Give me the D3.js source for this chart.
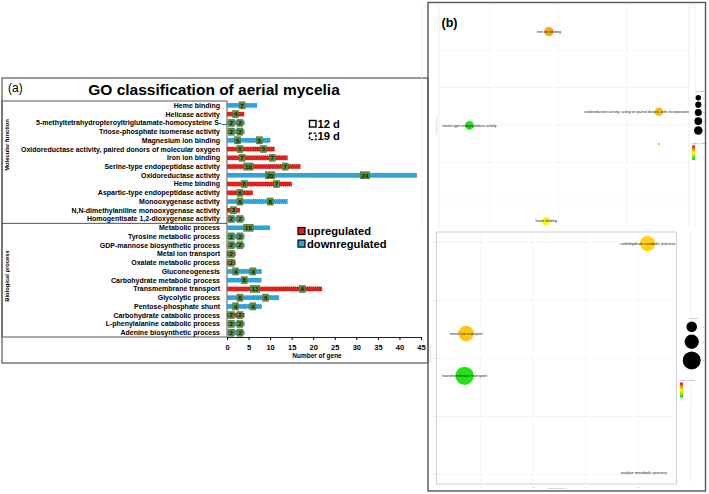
<!DOCTYPE html>
<html>
<head>
<meta charset="utf-8">
<script src="https://cdn.jsdelivr.net/npm/d3@7"></script>
<style>
body { margin: 0; background: #fff; }
svg { display: block; font-family: "Liberation Sans", Arial, sans-serif; }
</style>
</head>
<body>
<script>
// ---------- panel (a): GO classification bars ----------
let terms = [
  "Heme binding", "Helicase activity",
  "5-methyltetrahydropteroyltriglutamate-homocysteine S-...",
  "Triose-phosphate isomerase activity", "Magnesium ion binding",
  "Oxidoreductase activity, paired donors of molecular oxygen",
  "Iron ion binding", "Serine-type endopeptidase activity",
  "Oxidoreductase activity", "Heme binding",
  "Aspartic-type endopeptidase activity", "Monooxygenase activity",
  "N,N-dimethylaniline monooxygenase activity",
  "Homogentisate 1,2-dioxygenase activity",
  "Metabolic process", "Tyrosine metabolic process",
  "GDP-mannose biosynthetic process", "Metal ion transport",
  "Oxalate metabolic process", "Gluconeogenesis",
  "Carbohydrate metabolic process", "Transmembrane transport",
  "Glycolytic process", "Pentose-phosphate shunt",
  "Carbohydrate catabolic process", "L-phenylalanine catabolic process",
  "Adenine biosynthetic process"
];
let termGroup = [0,0,0,0,0,0,0,0,0,0,0,0,0,0, 1,1,1,1,1,1,1,1,1,1,1,1,1];
let groupNames = ["Molecular function", "Biological process"];
let day12 = [7,4,2,2,5,6,7,10,20,8,6,6,3,2, 10,2,2,2,2,4,8,13,6,4,2,2,2];
let day19 = [0,0,2,2,5,5,7,7,24,7,0,8,0,2, 0,2,2,0,0,4,0,9,6,4,2,2,2];
let regulation = ["down","up","down","down","down","up","up","up","down","up","up","down","up","down",
                  "down","down","down","up","up","down","down","up","down","down","up","down","down"];
let xTicks = [0,5,10,15,20,25,30,35,40,45];

// ---------- panel (b): semantic-space bubble plots ----------
let mfTerms = ["iron ion binding",
  "oxidoreduction activity, acting on paired donors, with incorporation",
  "serine-type endopeptidase activity", "", "heme binding"];
let mfX = [-0.28, 2.93, -2.6, 2.93, -0.36];
let mfY = [4.98, 0.71, -0.02, -1.01, -5.12];
let mfSize = [3.5, 3.0, 3.0, 0, 3.0];
let mfLogP = [0.62, 0.70, 1.95, 0.60, 0.97];
let mfSizeLegend = [1, 1.5, 2, 2.5, 3];

let bpTerms = ["carbohydrate catabolic process", "metal ion transport",
  "transmembrane transport", "oxalate metabolic process"];
let bpX = [2.36, -4.54, -4.6, 2.22];
let bpY = [3.96, 0.86, -0.6, -3.94];
let bpSize = [2.2, 2.35, 3.1, 0];
let bpLogP = [0.80, 0.76, 1.95, 0.90];
let bpSizeLegend = [1, 2, 3];
let gridTicks = [-4, -2, 0, 2, 4];

const fills = { up: "#e3201b", down: "#2aa5dd" };
const edges = { up: "#8e0e0b", down: "#146a98" };

const svg = d3.select("body").append("svg").attr("width", 709).attr("height", 494);
const defs = svg.append("defs");

// ---- panel (a) frame ----
const pa = svg.append("g");
pa.append("rect").attr("x", 2).attr("y", 78).attr("width", 426).attr("height", 285)
  .attr("fill", "none").attr("stroke", "#555").attr("stroke-width", 1.2);
pa.append("text").attr("x", 8).attr("y", 92).attr("font-size", 12).text("(a)");
pa.append("text").attr("x", 214).attr("y", 95).attr("text-anchor", "middle")
  .attr("font-size", 15.5).attr("font-weight", "bold").text("GO classification of aerial mycelia");

const x = d3.scaleLinear().domain([0, 45]).range([227, 421]);
const y = d3.scaleBand().domain(d3.range(terms.length)).range([101, 337]);
const bw = y.bandwidth();

// label box and group divider
pa.append("rect").attr("x", 2).attr("y", 101).attr("width", 225).attr("height", 236)
  .attr("fill", "none").attr("stroke", "#555").attr("stroke-width", 1);
let splitAt = termGroup.indexOf(1);
pa.append("line").attr("x1", 2).attr("x2", 227)
  .attr("y1", y(splitAt)).attr("y2", y(splitAt)).attr("stroke", "#555");

let groupCenters = [145, 276];
pa.selectAll("text.grp").data(groupNames).enter().append("text")
  .attr("class", "grp")
  .attr("transform", (d, i) => "translate(9," + groupCenters[i] + ") rotate(-90)")
  .attr("text-anchor", "middle").attr("font-size", 5.8).attr("font-weight", "bold")
  .text(d => d);

pa.selectAll("text.term").data(terms).enter().append("text")
  .attr("class", "term")
  .attr("x", d => d.endsWith("...") ? 227 : 220)
  .attr("y", (d, i) => y(i) + bw / 2)
  .attr("dy", "0.35em").attr("text-anchor", "end")
  .attr("font-size", 7).attr("font-weight", "bold")
  .text(d => d);

// x axis
const xAxis = pa.append("g").attr("transform", "translate(0,337)")
  .call(d3.axisBottom(x).tickValues(xTicks).tickSize(3).tickSizeOuter(0));
xAxis.select(".domain").attr("stroke", "#222");
xAxis.selectAll("text").attr("font-size", 7.5).attr("font-weight", "bold")
  .attr("font-family", "Liberation Sans, Arial, sans-serif").attr("dy", "0.9em");
pa.append("text").attr("x", 317).attr("y", 358).attr("text-anchor", "middle")
  .attr("font-size", 6.5).attr("font-weight", "bold").text("Number of gene");

// bars: solid 12 d segment, dashed-edged 19 d segment stacked after it
const rows = pa.selectAll("g.row").data(terms).enter().append("g")
  .attr("class", "row")
  .attr("transform", (d, i) => "translate(0," + (y(i) + bw / 2) + ")");

rows.append("rect")
  .attr("x", x(0)).attr("y", -2.3).attr("height", 4.6)
  .attr("width", (d, i) => x(day12[i]) - x(0))
  .attr("fill", (d, i) => fills[regulation[i]]);

rows.each(function (d, i) {
  if (day19[i] <= 0) return;
  d3.select(this).append("rect")
    .attr("x", x(day12[i])).attr("y", -2.1).attr("height", 4.2)
    .attr("width", x(day12[i] + day19[i]) - x(day12[i]))
    .attr("fill", fills[regulation[i]])
    .attr("stroke", edges[regulation[i]]).attr("stroke-width", 0.7)
    .attr("stroke-dasharray", "1,1");
});

// value tags in the middle of each segment
rows.each(function (d, i) {
  let segs = [[0, day12[i]], [day12[i], day19[i]]].filter(s => s[1] > 0);
  let g = d3.select(this);
  segs.forEach(s => {
    let cx = x(s[0] + s[1] / 2);
    let w = String(s[1]).length * 3.6 + 2.4;
    g.append("rect").attr("x", cx - w / 2).attr("y", -3.6).attr("width", w).attr("height", 7.2)
      .attr("fill", "#5d8c3c").attr("stroke", "#3f6a27").attr("stroke-width", 0.4);
    g.append("text").attr("x", cx).attr("y", 0).attr("dy", "0.36em")
      .attr("text-anchor", "middle").attr("font-size", 6.2).attr("font-weight", "bold")
      .attr("fill", "#111").text(s[1]);
  });
});

// day legend
let dayNames = ["12 d", "19 d"];
const dayLeg = pa.selectAll("g.day").data(dayNames).enter().append("g")
  .attr("class", "day")
  .attr("transform", (d, i) => "translate(309.5," + (120.5 + i * 12.6) + ")");
dayLeg.append("rect").attr("width", 6.5).attr("height", 6.5)
  .attr("fill", "#fff").attr("stroke", "#000").attr("stroke-width", 1.4)
  .attr("stroke-dasharray", (d, i) => i ? "2.5,1.5" : null);
dayLeg.append("text").attr("x", 8).attr("y", 7.2).attr("font-size", 11.2)
  .attr("font-weight", "bold").text(d => d);

// regulation legend
let regKeys = ["up", "down"];
let regNames = ["upregulated", "downregulated"];
const regLeg = pa.selectAll("g.reg").data(regKeys).enter().append("g")
  .attr("class", "reg")
  .attr("transform", (d, i) => "translate(298," + (227.5 + i * 12.6) + ")");
regLeg.append("rect").attr("width", 7).attr("height", 7)
  .attr("fill", d => fills[d]).attr("stroke", "#000").attr("stroke-width", 1.2);
regLeg.append("text").attr("x", 9).attr("y", 7.6).attr("font-size", 11.2)
  .attr("font-weight", "bold").text((d, i) => regNames[i]);

// ---- panel (b) ----
const pb = svg.append("g");
pb.append("rect").attr("x", 428).attr("y", 2.5).attr("width", 277.5).attr("height", 488.5)
  .attr("fill", "none").attr("stroke", "#555").attr("stroke-width", 1.4);
pb.append("text").attr("x", 441.5).attr("y", 26.5).attr("font-size", 12.5)
  .attr("font-weight", "bold").text("(b)");

const colour = d3.scaleLinear().domain([0, 1, 2]).range(["#ff0000", "#ffff00", "#00e000"]);

function bubblePanel(box, xDom, yDom, termsA, xs, ys, sizes, logp, rScale, fontSize, frame) {
  const sx = d3.scaleLinear().domain(xDom).range([box.x0, box.x1]);
  const sy = d3.scaleLinear().domain(yDom).range([box.y1, box.y0]);
  const g = pb.append("g");
  g.selectAll("line.gx").data(gridTicks).enter().append("line")
    .attr("x1", d => sx(d)).attr("x2", d => sx(d)).attr("y1", box.y0).attr("y2", box.y1)
    .attr("stroke", "#eeeeee").attr("stroke-width", 0.6);
  g.selectAll("line.gy").data(gridTicks).enter().append("line")
    .attr("y1", d => sy(d)).attr("y2", d => sy(d)).attr("x1", box.x0).attr("x2", box.x1)
    .attr("stroke", "#eeeeee").attr("stroke-width", 0.6);
  if (frame) {
    g.append("rect").attr("x", box.x0).attr("y", box.y0)
      .attr("width", box.x1 - box.x0).attr("height", box.y1 - box.y0)
      .attr("fill", "none").attr("stroke", "#d2d2d2").attr("stroke-width", 1);
    g.selectAll("line.ty").data(gridTicks).enter().append("line")
      .attr("x1", box.x0 - 3).attr("x2", box.x0).attr("y1", d => sy(d)).attr("y2", d => sy(d))
      .attr("stroke", "#bbb").attr("stroke-width", 0.5);
    g.selectAll("text.tx").data(gridTicks.slice(0, 4)).enter().append("text")
      .attr("x", d => sx(d)).attr("y", box.y1 + 3.5).attr("text-anchor", "middle")
      .attr("font-size", 2.5).attr("fill", "#999").text(d => d);
  } else {
    g.selectAll("line.bx").data([box.x0, box.x1]).enter().append("line")
      .attr("x1", d => d).attr("x2", d => d).attr("y1", box.y0).attr("y2", box.y1)
      .attr("stroke", "#e6e6e6").attr("stroke-width", 0.7);
  }
  g.selectAll("circle").data(termsA).enter().append("circle")
    .attr("cx", (d, i) => sx(xs[i])).attr("cy", (d, i) => sy(ys[i]))
    .attr("r", (d, i) => rScale(sizes[i]))
    .attr("fill", (d, i) => colour(logp[i])).attr("opacity", 0.92);
  g.selectAll("text.lab").data(termsA).enter().append("text")
    .attr("class", "lab")
    .attr("x", (d, i) => sx(xs[i])).attr("y", (d, i) => sy(ys[i]))
    .attr("dy", "0.35em").attr("text-anchor", "middle")
    .attr("font-size", fontSize).attr("fill", "#1a1a1a")
    .text(d => d)
    .each(function () {
      const t = d3.select(this), w = this.getComputedTextLength();
      const cx = +t.attr("x");
      if (cx + w / 2 > box.x1) t.attr("x", box.x1 - w / 2);
      if (cx - w / 2 < box.x0) t.attr("x", box.x0 + w / 2 + 1);
    });
  return g;
}

// molecular function (top)
const rMF = d3.scaleLinear().domain([0, 1, 3]).range([1, 2.7, 4.3]);
bubblePanel({ x0: 439, x1: 689, y0: 5, y1: 228 }, [-3.49, 3.81], [-5.49, 6.4],
  mfTerms, mfX, mfY, mfSize, mfLogP, rMF, 3.6, false);
pb.append("text").attr("transform", "translate(436.5,125) rotate(-90)")
  .attr("text-anchor", "middle").attr("font-size", 2.5).attr("fill", "#999")
  .text("semantic space y");

// biological process (bottom)
const rBP = d3.scaleLinear().domain([0, 1, 3]).range([0.5, 5.3, 9]);
bubblePanel({ x0: 436.5, x1: 676.5, y0: 232, y1: 484 }, [-5.67, 3.46], [-4.33, 4.36],
  bpTerms, bpX, bpY, bpSize, bpLogP, rBP, 4, true);
pb.append("text").attr("x", 557).attr("y", 489).attr("text-anchor", "middle")
  .attr("font-size", 2.5).attr("fill", "#999").text("semantic space x");
pb.append("text").attr("transform", "translate(431,353) rotate(-90)")
  .attr("text-anchor", "middle").attr("font-size", 2.5).attr("fill", "#999")
  .text("semantic space y");

// size + colour legends
function legend(lx, ly, vals, rScale, gap, labX, barX, barY, barH) {
  const g = pb.append("g");
  g.append("text").attr("x", lx - 3).attr("y", ly - 3).attr("font-size", 2.5)
    .attr("fill", "#777").text("log_size");
  let cy = ly;
  vals.forEach((v, i) => {
    const r = rScale(v);
    cy += (i === 0 ? r : r + gap);
    g.append("circle").attr("cx", lx).attr("cy", cy).attr("r", r).attr("fill", "#000");
    g.append("text").attr("x", labX).attr("y", cy).attr("dy", "0.35em")
      .attr("font-size", 2.5).attr("fill", "#777").text(v);
    cy += r;
  });
  const gradId = "grad" + Math.round(barY);
  const grad = defs.append("linearGradient").attr("id", gradId)
    .attr("x1", 0).attr("x2", 0).attr("y1", 0).attr("y2", 1);
  [0, 1, 2].forEach(v => grad.append("stop").attr("offset", (v / 2 * 100) + "%")
    .attr("stop-color", colour(v)));
  g.append("text").attr("x", barX).attr("y", barY - 1.5).attr("font-size", 2.5)
    .attr("fill", "#777").text("log10_pvalue");
  g.append("rect").attr("x", barX).attr("y", barY).attr("width", 3).attr("height", barH)
    .attr("fill", "url(#" + gradId + ")");
}
legend(698.3, 95, mfSizeLegend, rMF, 1.2, 703.2, 692, 145.5, 14.5);
legend(691.7, 321.5, bpSizeLegend, rBP, 2.5, 702.5, 680, 382.5, 15);
</script>
</body>
</html>
